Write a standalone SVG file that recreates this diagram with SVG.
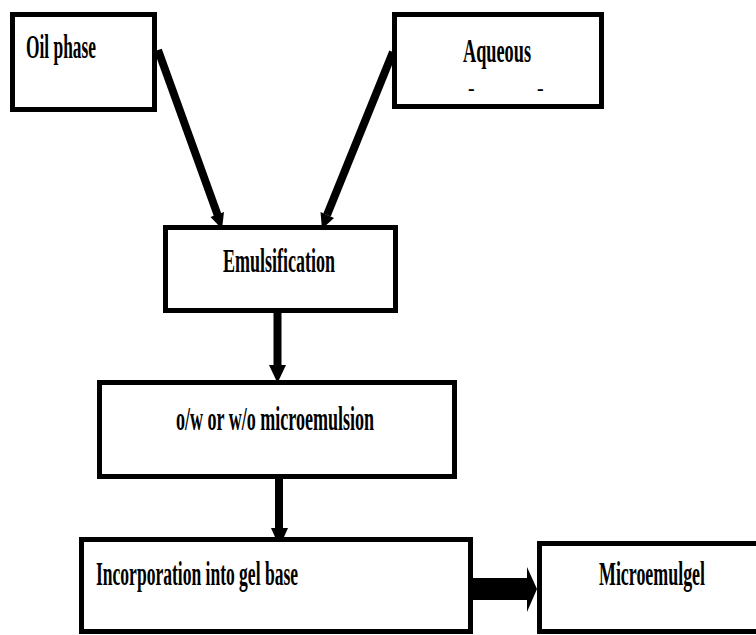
<svg xmlns="http://www.w3.org/2000/svg" width="756" height="635" viewBox="0 0 756 635">
<style>
.box{fill:#fff;stroke:#000;stroke-width:5}
.t{font-family:"Liberation Serif","Times New Roman",serif;font-weight:bold;font-size:34px;fill:#000}
.d{font-family:"Liberation Serif","Times New Roman",serif;font-weight:bold;font-size:20px;fill:#000}
.ln{stroke:#000;stroke-width:8;fill:none}
</style>
<rect width="756" height="635" fill="#fff"/>
<g id="connectors">
<line class="ln" x1="158" y1="50" x2="218" y2="216"/>
<polygon points="222,229 224,212 210.5,217"/>
<line class="ln" x1="393" y1="52" x2="327" y2="215"/>
<polygon points="322,229 334,218 320.5,212"/>
<line class="ln" x1="277.5" y1="313" x2="277.5" y2="368"/>
<polygon points="269,365 286,365 277.5,383"/>
<line class="ln" x1="279" y1="478" x2="279" y2="530"/>
<polygon points="271,528 288,528 279.5,547"/>
<polygon points="473,578 527,578 527,567 537,589 527,612 527,600 473,600"/>
</g>
<g id="oil">
<rect class="box" x="12.5" y="14.5" width="142" height="95"/>
<text class="t" x="26" y="58" textLength="70" lengthAdjust="spacingAndGlyphs">Oil phase</text>
</g>
<g id="aqueous">
<rect class="box" x="394.5" y="14.5" width="207" height="92"/>
<text class="t" x="463" y="62" textLength="68" lengthAdjust="spacingAndGlyphs">Aqueous</text>
<text class="d" x="468" y="95">-</text>
<text class="d" x="537" y="95">-</text>
</g>
<g id="emulsification">
<rect class="box" x="165.5" y="227.5" width="230" height="83"/>
<text class="t" x="223" y="272" textLength="112" lengthAdjust="spacingAndGlyphs">Emulsification</text>
</g>
<g id="microemulsion">
<rect class="box" x="99.5" y="382.5" width="355" height="94"/>
<text class="t" x="176" y="430" textLength="198" lengthAdjust="spacingAndGlyphs">o/w or w/o microemulsion</text>
</g>
<g id="incorporation">
<rect class="box" x="81.5" y="539.5" width="389" height="92"/>
<text class="t" x="96" y="585" textLength="202" lengthAdjust="spacingAndGlyphs">Incorporation into gel base</text>
</g>
<g id="microemulgel">
<rect class="box" x="539.5" y="543.5" width="222" height="88"/>
<text class="t" x="599" y="585" textLength="106" lengthAdjust="spacingAndGlyphs">Microemulgel</text>
</g>
</svg>
